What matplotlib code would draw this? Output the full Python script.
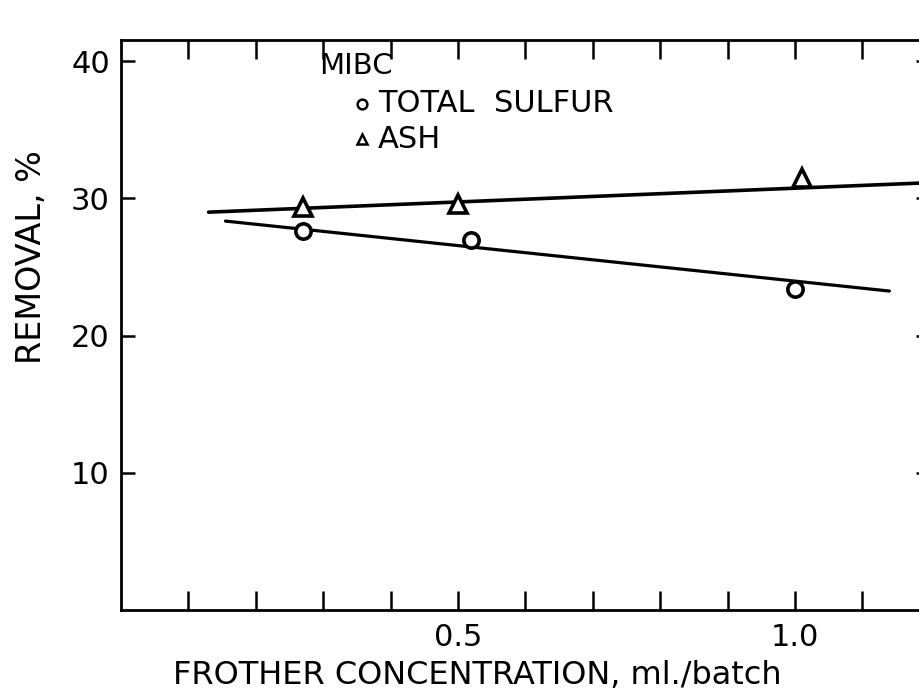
import matplotlib.pyplot as plt
import numpy as np

# Data
ash_x = [0.27, 0.50, 1.01]
ash_y = [29.4, 29.6, 31.5]
sulfur_x = [0.27, 0.52, 1.00]
sulfur_y = [27.6, 27.0, 23.4]

# fitted lines (endpoints as drawn)
ash_fit_x = [0.13, 1.20]
ash_fit_y = [29.0, 31.15]
sulfur_fit_x = [0.155, 1.14]
sulfur_fit_y = [28.35, 23.25]

xticks = np.round(np.arange(1, 12) / 10, 1)
xtick_labels = ['0.5' if t == 0.5 else '1.0' if t == 1.0 else '' for t in xticks]
yticks = [10, 20, 30, 40]

plt.rcParams['font.family'] = 'DejaVu Sans'

fig = plt.figure(figsize=(9.2, 6.96), dpi=100)
ax = fig.add_axes([121 / 920, 86 / 696, 1.2 * 674 / 920, 570 / 696])

ax.plot(ash_fit_x, ash_fit_y, color='black', lw=2.6, solid_capstyle='round')
ax.plot(sulfur_fit_x, sulfur_fit_y, color='black', lw=2.3, solid_capstyle='round')
ax.plot(ash_x, ash_y, linestyle='none', marker='^', ms=13, mfc='white', mec='black', mew=2.6)
ax.plot(sulfur_x, sulfur_y, linestyle='none', marker='o', ms=11, mfc='white', mec='black', mew=2.6)

ax.set_xlim(0, 1.2)
ax.set_ylim(0, 41.55)
ax.set_xticks(xticks)
ax.set_xticklabels(xtick_labels)
ax.set_yticks(yticks)

ax.tick_params(axis='x', direction='in', top=True, bottom=True, length=14, width=1.8,
               labelsize=22, pad=9)
ax.tick_params(axis='y', direction='in', left=True, right=True, length=10, width=1.8,
               labelsize=22, pad=8)
for s in ax.spines.values():
    s.set_linewidth(2.0)

ax.set_xlabel('FROTHER CONCENTRATION, ml./batch', fontsize=23)
ax.xaxis.set_label_coords(0.44, -0.088)
ax.set_ylabel('REMOVAL, %', fontsize=24)
ax.yaxis.set_label_coords(-0.09, 0.62)

# key
ax.text(0.245, 0.955, 'MIBC', transform=ax.transAxes, fontsize=21, va='center', ha='left')
ax.plot([0.298], [0.888], transform=ax.transAxes, marker='o', ms=7, mfc='white', mec='black', mew=1.8, clip_on=False)
ax.text(0.318, 0.888, 'TOTAL  SULFUR', transform=ax.transAxes, fontsize=22, va='center', ha='left')
ax.plot([0.298], [0.826], transform=ax.transAxes, marker='^', ms=7, mfc='white', mec='black', mew=1.8, clip_on=False)
ax.text(0.318, 0.826, 'ASH', transform=ax.transAxes, fontsize=22, va='center', ha='left')

fig.savefig('out.png', dpi=100)
